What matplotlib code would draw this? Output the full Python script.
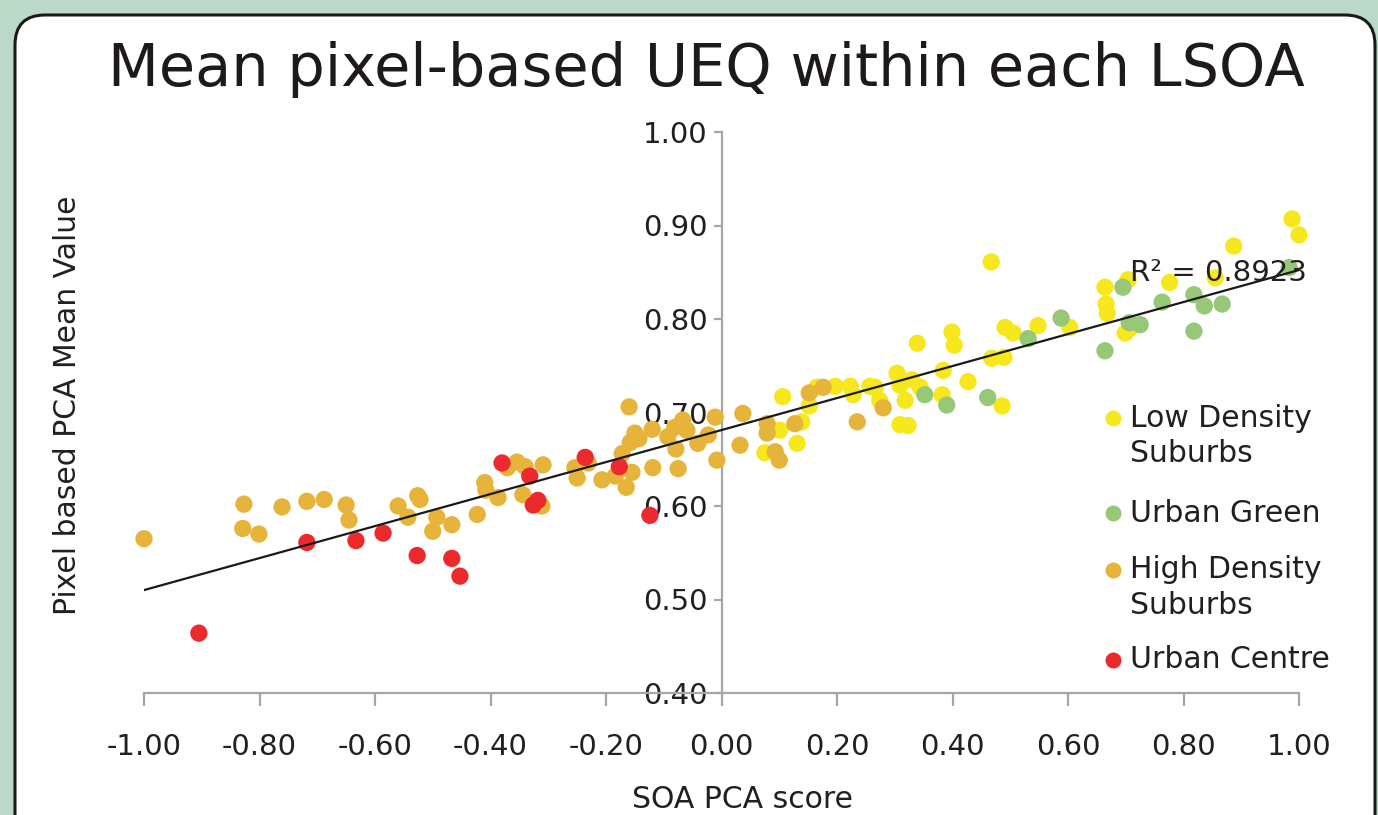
import matplotlib
matplotlib.use("Agg")
import matplotlib.pyplot as plt
import numpy as np
from matplotlib.patches import FancyBboxPatch
from matplotlib.transforms import IdentityTransform
from matplotlib.ticker import FormatStrFormatter

plt.rcParams['font.family'] = ['DejaVu Sans']
plt.rcParams['axes.unicode_minus'] = False

# data (SOA PCA score, pixel based PCA mean)
low_x = [0.106, 0.101, 0.075, 0.131, 0.139, 0.152, 0.165, 0.197, 0.223, 0.228,
         0.257, 0.266, 0.274, 0.304, 0.309, 0.318, 0.309, 0.323, 0.339, 0.330,
         0.344, 0.384, 0.382, 0.399, 0.403, 0.427, 0.467, 0.468, 0.489, 0.486,
         0.491, 0.505, 0.548, 0.603, 0.664, 0.666, 0.668, 0.704, 0.699, 0.707,
         0.776, 0.855, 0.887, 0.988, 1.000]
low_y = [0.717, 0.681, 0.657, 0.667, 0.690, 0.707, 0.727, 0.728, 0.728, 0.719,
         0.728, 0.727, 0.713, 0.742, 0.729, 0.713, 0.687, 0.686, 0.774, 0.735,
         0.727, 0.745, 0.719, 0.786, 0.772, 0.733, 0.861, 0.758, 0.759, 0.707,
         0.791, 0.785, 0.793, 0.791, 0.834, 0.816, 0.806, 0.842, 0.785, 0.790,
         0.839, 0.844, 0.878, 0.907, 0.890]

green_x = [0.352, 0.390, 0.461, 0.531, 0.588, 0.664, 0.695, 0.706, 0.725, 0.763,
           0.818, 0.836, 0.867, 0.818, 0.983]
green_y = [0.719, 0.708, 0.716, 0.779, 0.801, 0.766, 0.834, 0.796, 0.794, 0.818,
           0.826, 0.814, 0.816, 0.787, 0.855]

high_x = [-1.000, -0.827, -0.829, -0.801, -0.761, -0.718, -0.688, -0.650, -0.645, -0.560,
          -0.543, -0.526, -0.522, -0.493, -0.500, -0.467, -0.423, -0.410, -0.408, -0.387,
          -0.371, -0.354, -0.340, -0.344, -0.309, -0.311, -0.254, -0.250, -0.231, -0.207,
          -0.184, -0.172, -0.165, -0.155, -0.158, -0.150, -0.143, -0.119, -0.120, -0.160,
          -0.093, -0.081, -0.079, -0.075, -0.067, -0.060, -0.041, -0.023, -0.011, -0.008,
          0.032, 0.037, 0.079, 0.079, 0.093, 0.100, 0.127, 0.152, 0.176, 0.235, 0.280]
high_y = [0.565, 0.602, 0.576, 0.570, 0.599, 0.605, 0.607, 0.601, 0.585, 0.600,
          0.588, 0.611, 0.607, 0.588, 0.573, 0.580, 0.591, 0.625, 0.617, 0.609,
          0.641, 0.647, 0.642, 0.612, 0.644, 0.600, 0.641, 0.630, 0.646, 0.628,
          0.632, 0.656, 0.620, 0.636, 0.668, 0.678, 0.672, 0.641, 0.682, 0.706,
          0.674, 0.684, 0.661, 0.640, 0.692, 0.681, 0.667, 0.676, 0.695, 0.649,
          0.665, 0.699, 0.688, 0.678, 0.658, 0.649, 0.688, 0.721, 0.727, 0.690, 0.705]

centre_x = [-0.905, -0.718, -0.633, -0.586, -0.527, -0.467, -0.453, -0.380, -0.332, -0.326,
            -0.318, -0.236, -0.177, -0.124]
centre_y = [0.464, 0.561, 0.563, 0.571, 0.547, 0.544, 0.525, 0.646, 0.632, 0.601,
            0.606, 0.652, 0.642, 0.590]

labels = ['Low Density\nSuburbs', 'Urban Green', 'High Density\nSuburbs', 'Urban Centre']
colors = ['#F7E81E', '#96C878', '#E6B43A', '#EC2A2E']
x_ticks = [-1.0, -0.8, -0.6, -0.4, -0.2, 0.0, 0.2, 0.4, 0.6, 0.8, 1.0]
y_ticks = [0.4, 0.5, 0.6, 0.7, 0.8, 0.9, 1.0]
r2_text = 'R² = 0.8923'

W, H = 1378, 815
def px(x, y):
    # pixel position (from top left) -> figure fraction
    return x / W, 1 - y / H

fig = plt.figure(figsize=(13.78, 8.15), dpi=100, facecolor='#BCD8C8')

# white rounded panel, behind the axes
panel = FancyBboxPatch((15, -60), 1360, H - 15 + 60,
                       boxstyle="round,pad=0,rounding_size=30",
                       transform=IdentityTransform(),
                       facecolor='white', edgecolor='#1A1A1A', linewidth=2.2, zorder=-5)
fig.patches.append(panel)

ax = fig.add_axes([144 / W, 1 - 693 / H, 1155 / W, 561 / H])
ax.set_facecolor('none')
ax.set_zorder(2)

series = [(low_x, low_y), (green_x, green_y), (high_x, high_y), (centre_x, centre_y)]
for (xs, ys), c in zip(series, colors):
    ax.scatter(xs, ys, s=155, color=c, edgecolors='none', zorder=3, clip_on=False)

# linear trendline over all points
all_x = np.concatenate([s[0] for s in series])
all_y = np.concatenate([s[1] for s in series])
slope, inter = np.polyfit(all_x, all_y, 1)
xl = np.array([-1.0, 1.0])
ax.plot(xl, slope * xl + inter, color='#1A1A1A', lw=1.6, zorder=4)
ax.text(0.707, 0.849, r2_text, fontsize=21, color='#231F20', va='center', ha='left', zorder=5)

ax.set_xlim(-1, 1)
ax.set_ylim(0.4, 1.0)
ax.set_xticks(x_ticks)
ax.set_yticks(y_ticks)
ax.xaxis.set_major_formatter(FormatStrFormatter('%.2f'))
ax.yaxis.set_major_formatter(FormatStrFormatter('%.2f'))

for s in ['top', 'right']:
    ax.spines[s].set_visible(False)
ax.spines['left'].set_position(('data', 0))
for s in ['left', 'bottom']:
    ax.spines[s].set_color('#A6A6A6')
    ax.spines[s].set_linewidth(1.6)
ax.tick_params(axis='x', length=9, width=1.6, color='#A6A6A6', labelsize=21,
               labelcolor='#231F20', pad=20)
ax.tick_params(axis='y', length=6, width=1.6, color='#A6A6A6', labelsize=21,
               labelcolor='#231F20', pad=4)

# titles
fig.text(*px(706, 70), 'Mean pixel-based UEQ within each LSOA', fontsize=42.5,
         color='#1E1A1B', ha='center', va='center')
fig.text(*px(68, 405), 'Pixel based PCA Mean Value', fontsize=21.5, rotation=90,
         color='#231F20', ha='center', va='center')
fig.text(*px(743, 800), 'SOA PCA score', fontsize=21.5,
         color='#231F20', ha='center', va='center')

# legend drawn by hand so the marker sits on the first line
leg_y = [418, 513, 570, 660]
for lab, c, y in zip(labels, colors, leg_y):
    fig.lines.append(plt.Line2D([1113 / W], [1 - y / H], marker='o', markersize=11.5,
                                color=c, markeredgecolor='none', transform=fig.transFigure))
    for i, line in enumerate(lab.split('\n')):
        fig.text(*px(1130, y + i * 35), line, fontsize=21.5, color='#231F20',
                 ha='left', va='center')

fig.savefig('out.png', dpi=100, facecolor=fig.get_facecolor())
